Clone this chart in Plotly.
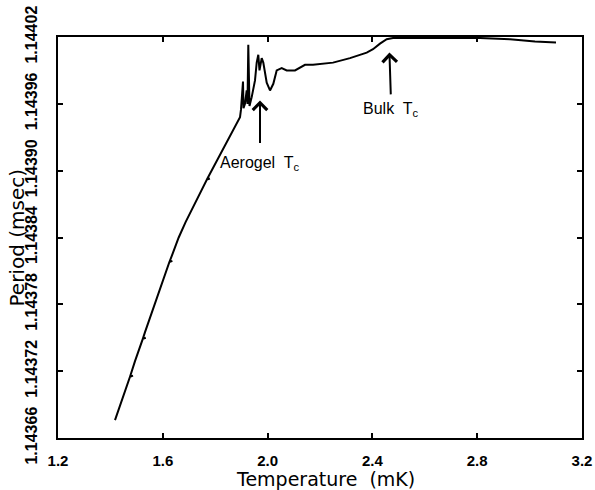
import plotly.graph_objects as go

# Temperature (mK) and oscillator period (msec)
temperature = [
    1.4176, 1.4557, 1.4748, 1.4863, 1.4748, 1.4939, 1.5237, 1.5351, 1.5237,
    1.5321, 1.5702, 1.6073, 1.6252, 1.6366, 1.6252, 1.6351, 1.6607, 1.6874,
    1.7191, 1.7534, 1.7683, 1.7798, 1.7683, 1.7840, 1.8153, 1.8462, 1.8718,
    1.8947,
    1.8985, 1.9061, 1.9080, 1.9137, 1.9202, 1.9233, 1.9263, 1.9309, 1.9393,
    1.9519, 1.9584, 1.9645, 1.9691, 1.9775, 1.9836, 1.9901, 1.9966, 2.0092,
    2.0218, 2.0347, 2.0538, 2.0729, 2.1046, 2.1427, 2.1733, 2.2496, 2.3145,
    2.3782, 2.4023, 2.4290, 2.4546, 2.4786, 2.5817, 2.6962, 2.8107, 2.9252,
    3.0206, 3.1008,
]
period = [
    1.143676, 1.143702, 1.143715, 1.143716, 1.143715, 1.143729, 1.143749,
    1.143750, 1.143749, 1.143755, 1.143781, 1.143807, 1.143818, 1.143819,
    1.143818, 1.143824, 1.143840, 1.143854, 1.143869, 1.143885, 1.143892,
    1.143893, 1.143892, 1.143899, 1.143913, 1.143927, 1.143938, 1.143948,
    1.143955, 1.143980, 1.143956, 1.143960, 1.143972, 1.143960, 1.144013,
    1.143958, 1.143966, 1.143981, 1.143997, 1.144004, 1.143990, 1.144001,
    1.143997, 1.143988, 1.143979, 1.143972, 1.143978, 1.143990, 1.143992,
    1.143990, 1.143990, 1.143995, 1.143995, 1.143997, 1.144001, 1.144006,
    1.144009, 1.144014, 1.144018, 1.144019, 1.144019, 1.144019, 1.144019,
    1.144018, 1.144016, 1.144015,
]

x_ticks = [1.2, 1.6, 2.0, 2.4, 2.8, 3.2]
y_ticks = [1.14366, 1.14372, 1.14378, 1.14384, 1.14390, 1.14396, 1.14402]

x_title = "Temperature\u00a0 (mK)"
y_title = "Period (msec)"

# annotations: arrow head position and label centre (data units)
markers = [
    dict(text="Aerogel  T<sub>c</sub>", x=1.9710, head=1.143963,
         label_x=1.9710, label_y=1.143906, pad=11),
    dict(text="Bulk  T<sub>c</sub>", x=2.4650, head=1.144006,
         label_x=2.4720, label_y=1.143955, pad=5),
]

fig = go.Figure()
fig.add_trace(go.Scatter(
    x=temperature, y=period, mode="lines",
    line=dict(color="black", width=2), showlegend=False,
))

axis_common = dict(
    showline=True, linecolor="black", linewidth=2, mirror="ticks",
    ticks="inside", ticklen=5, tickwidth=1.5, tickcolor="black",
    showgrid=False, zeroline=False, automargin=False,
)

fig.update_layout(
    width=595, height=490,
    margin=dict(l=58, r=13, t=37, b=52, autoexpand=False),
    paper_bgcolor="white", plot_bgcolor="white",
    xaxis=dict(
        range=[1.2, 3.2], tickvals=x_ticks,
        ticktext=[f"{v:.1f}" for v in x_ticks],
        tickfont=dict(family="Liberation Sans", size=15, color="black", weight="bold"),
        ticklabelstandoff=8,
        **axis_common,
    ),
    yaxis=dict(
        range=[1.14366, 1.14402], tickvals=y_ticks,
        ticktext=[f"{v:.5f}" for v in y_ticks],
        tickangle=-90,
        tickfont=dict(family="Liberation Sans", size=16, color="black", weight="bold"),
        ticklabelstandoff=13,
        **axis_common,
    ),
)

fig.add_annotation(
    text=x_title, xref="paper", yref="paper", x=0.51, y=0,
    xanchor="center", yanchor="middle", yshift=-41,
    showarrow=False, font=dict(family="DejaVu Sans", size=19, color="black"),
)
fig.add_annotation(
    text=y_title, xref="paper", yref="paper", x=0, y=0.5,
    xanchor="center", yanchor="middle", xshift=-42, textangle=-90,
    showarrow=False, font=dict(family="DejaVu Sans", size=20, color="black"),
)

for m in markers:
    fig.add_annotation(
        x=m["x"], y=m["head"], ax=m["label_x"], ay=m["label_y"],
        xref="x", yref="y", axref="x", ayref="y",
        text=m["text"], showarrow=True, arrowhead=4, arrowsize=1.4,
        arrowwidth=2, arrowcolor="black", borderpad=m["pad"],
        font=dict(family="Liberation Sans", size=16, color="black"),
    )

fig.write_html("out.html")
